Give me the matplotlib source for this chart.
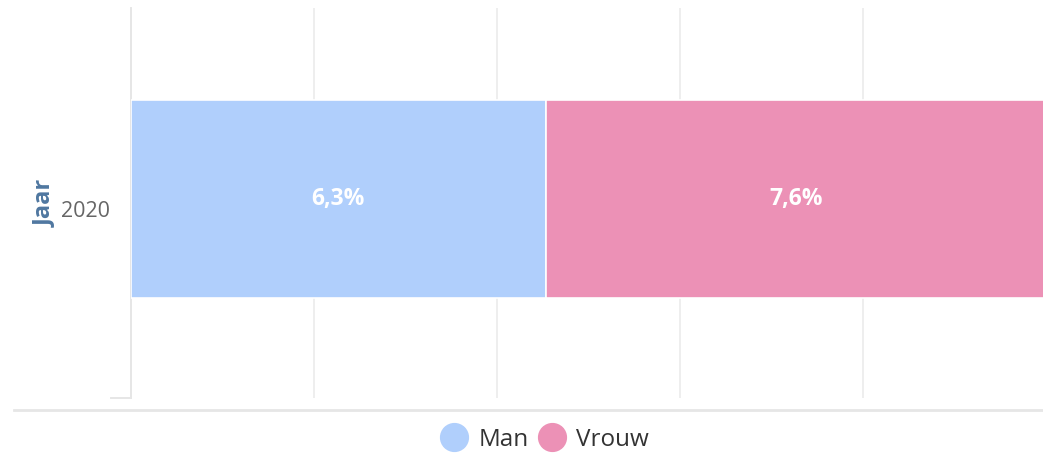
import matplotlib
matplotlib.use("Agg")
import matplotlib.pyplot as plt
from matplotlib.lines import Line2D
from matplotlib.transforms import ScaledTranslation

plt.rcParams['font.family'] = ['Open Sans', 'DejaVu Sans']

# data
years = ['2020']
series = ['Man', 'Vrouw']
values = [6.3, 7.6]
colors = ['#b0cffc', '#ec91b6']
labels = ['6,3%', '7,6%']

fig = plt.figure(figsize=(10.43, 4.53), dpi=100)
ax = fig.add_axes([131 / 1043, 1 - 398 / 453, (1046 - 131) / 1043, 390 / 453])

total = sum(values)
left = 0
for val, col, lab, name in zip(values, colors, labels, series):
    ax.barh(0, val, left=left, height=0.508, color=col, edgecolor='white',
            linewidth=1.2, label=name, zorder=3)
    ax.text(left + val / 2, 0, lab, ha='center', va='center', color='white',
            fontsize=16.5, fontweight='bold', zorder=4)
    left += val

ax.set_xlim(0, total)
ax.set_ylim(-0.51, 0.49)
ax.set_xticks([total * i / 5 for i in range(6)])
ax.set_xticklabels([])
ax.tick_params(axis='x', length=0)
ax.grid(axis='x', color='#eeeeee', linewidth=1.4, zorder=0)

ax.set_yticks([0])
ax.set_yticklabels(years, fontsize=15.5, color='#666666')
ax.tick_params(axis='y', length=0, pad=15)
for t in ax.get_yticklabels():
    t.set_transform(t.get_transform() + ScaledTranslation(0, -0.1, fig.dpi_scale_trans))
ax.set_ylabel('Jaar', fontsize=17, fontweight='bold', color='#4f77a0', labelpad=3)

for s in ['top', 'right', 'bottom']:
    ax.spines[s].set_visible(False)
ax.spines['left'].set_color('#e6e6e6')
ax.spines['left'].set_linewidth(1.4)
# small tick at bottom of category axis
ax.plot([-0.022, 0], [0, 0], transform=ax.transAxes, color='#e6e6e6',
        linewidth=1.4, clip_on=False)

# separator line above legend
fig.add_artist(Line2D([14 / 1043, 1], [1 - 410 / 453] * 2, color='#e6e6e6',
                      linewidth=2))

handles = [Line2D([], [], marker='o', linestyle='none', markersize=20,
                  markerfacecolor=c, markeredgecolor=c) for c in colors]
fig.legend(handles, series, loc='center', bbox_to_anchor=(542 / 1043, 1 - 440 / 453),
           ncol=2, frameon=False, fontsize=17.5, handlelength=1.6,
           handletextpad=0.2, columnspacing=0.15, labelcolor='#333333')

fig.savefig('out.png', dpi=100)
